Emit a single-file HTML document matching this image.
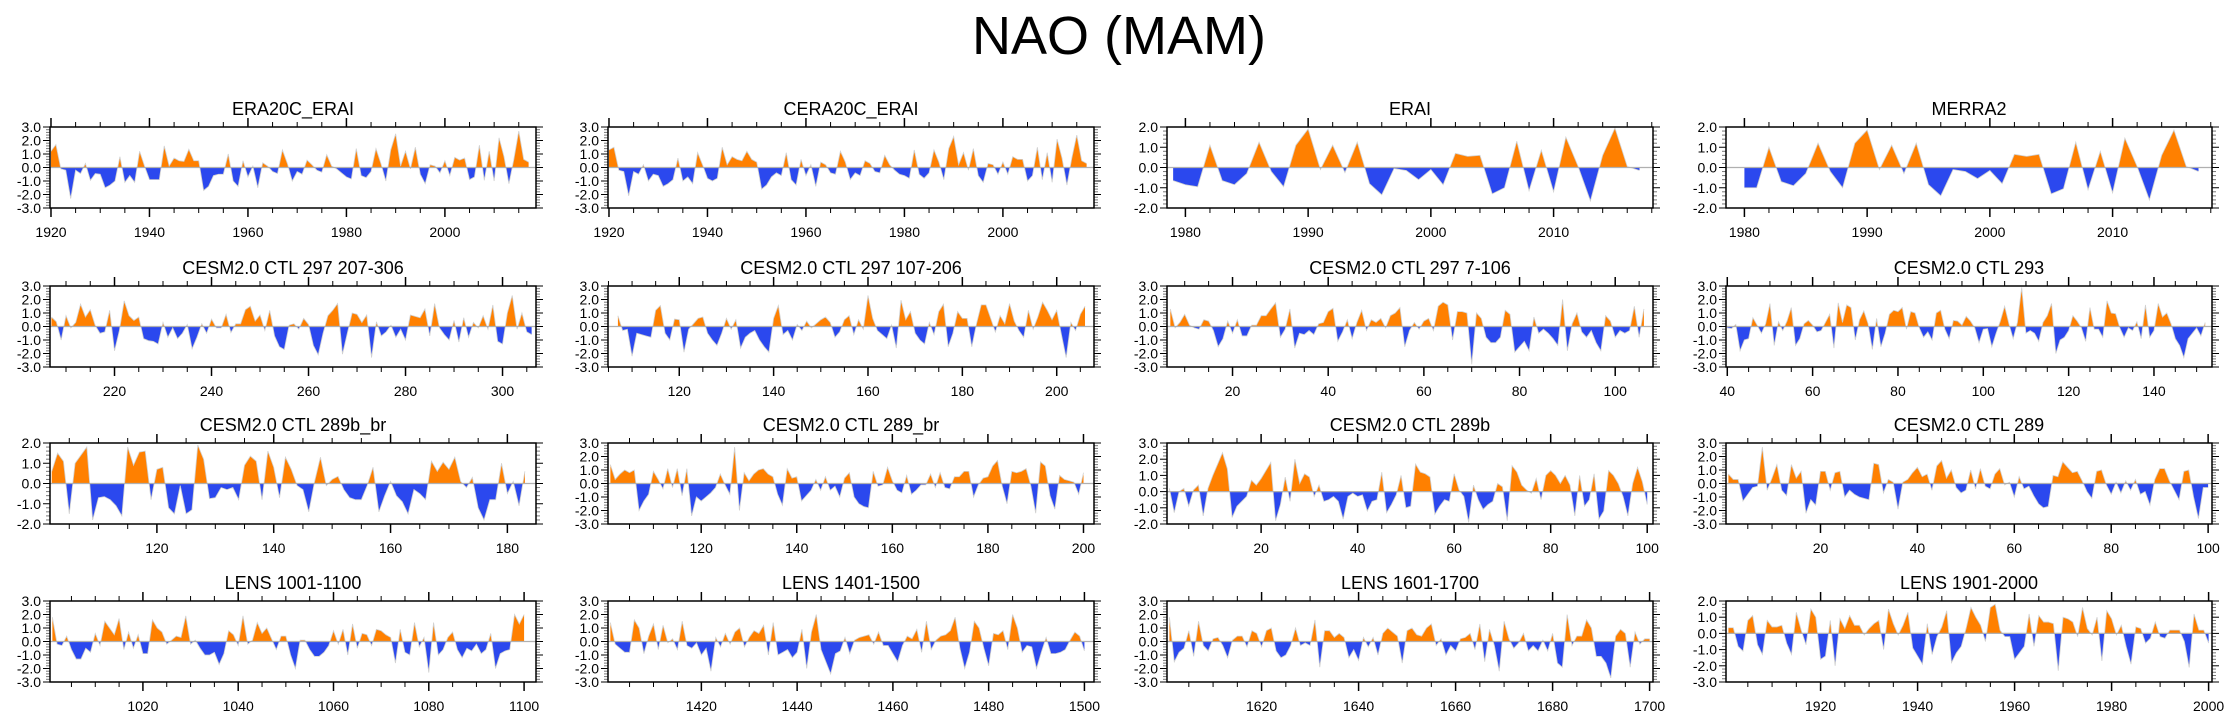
<!DOCTYPE html>
<html><head><meta charset="utf-8"><title>NAO (MAM)</title>
<style>
html,body{margin:0;padding:0;background:#fff;}
svg{display:block;font-family:"Liberation Sans",Arial,sans-serif;}
</style></head>
<body>
<svg id="chart" width="2238" height="719" viewBox="0 0 2238 719" xmlns="http://www.w3.org/2000/svg">
<rect x="0" y="0" width="2238" height="719" fill="#fff"/>
<text x="1119" y="54" font-size="54" text-anchor="middle" fill="#000">NAO (MAM)</text>
</svg>
<script>
const era20cVals=[1.2,1.7,-0.1,-0.2,-2.3,-0.2,-0.45,0.3,-0.95,-0.45,-0.5,-1.5,-1.3,-1.0,0.8,-1.1,-0.6,-1.1,1.2,0.1,-0.9,-0.9,-0.9,1.6,0.1,0.7,0.5,0.45,1.35,0.5,0.5,-1.7,-1.4,-0.6,-0.5,-0.5,1.0,-1.0,-1.4,0.5,-0.7,0.1,-1.5,0.35,0.1,-0.3,-0.45,1.3,0.3,-1.0,-0.3,-0.5,0.55,0.2,-0.2,-0.35,0.95,0.1,-0.1,-0.4,-0.7,-0.85,1.4,-0.6,-0.75,-0.3,1.4,0.3,-1.0,1.3,2.5,0.1,1.2,-0.1,1.5,-0.5,-1.2,0.2,0.1,-0.4,0.5,-0.6,0.75,0.55,0.7,-0.9,-0.7,1.65,-0.95,1.2,-1.0,2.2,0.8,-1.2,0.6,2.7,0.6,0.4];
const cera20cVals=[1.3,1.5,-0.2,-0.3,-2.1,-0.3,-0.5,0.2,-1.0,-0.5,-0.6,-1.4,-1.2,-0.9,0.7,-1.0,-0.7,-1.2,1.1,0.2,-0.8,-1.0,-0.8,1.5,0.2,0.8,0.6,0.5,1.2,0.6,0.4,-1.6,-1.3,-0.7,-0.4,-0.6,1.1,-0.9,-1.3,0.6,-0.6,0.2,-1.4,0.4,0.2,-0.4,-0.5,1.2,0.4,-0.9,-0.4,-0.6,0.5,0.3,-0.3,-0.4,0.9,0.2,-0.2,-0.5,-0.6,-0.8,1.3,-0.5,-0.8,-0.4,1.3,0.4,-0.9,1.4,2.3,0.2,1.1,-0.2,1.4,-0.6,-1.1,0.3,0.2,-0.5,0.4,-0.5,0.8,0.6,0.6,-1.0,-0.6,1.5,-0.9,1.1,-1.1,2.1,0.7,-1.3,0.7,2.4,0.5,0.3];
const eraiVals=[-0.65,-0.85,-0.95,1.1,-0.65,-0.85,-0.3,1.25,-0.2,-0.95,1.1,1.9,-0.1,1.1,-0.25,1.25,-0.8,-1.35,-0.05,-0.15,-0.6,-0.1,-0.85,0.7,0.55,0.6,-1.3,-1.0,1.3,-1.15,0.85,-1.2,1.5,0.05,-1.65,0.6,1.95,0.05,-0.15];
const merra2Vals=[-1.0,-1.0,1.0,-0.7,-0.9,-0.3,1.2,-0.2,-1.0,1.2,1.85,-0.1,1.1,-0.3,1.2,-0.85,-1.4,-0.1,-0.2,-0.55,-0.15,-0.8,0.65,0.55,0.65,-1.3,-1.05,1.25,-1.1,0.8,-1.25,1.45,0.05,-1.6,0.6,1.85,0.05,-0.2];
const ctl297aVals=[0.7,0.35,-1.0,0.8,-0.1,0.3,1.65,0.7,1.25,0.1,-0.5,-0.4,1.2,-1.8,-0.3,1.9,0.8,0.45,0.7,-0.9,-1.05,-1.1,-1.3,0.3,-0.8,-0.1,-0.9,-0.5,0.15,-1.65,-0.8,0.2,-0.5,0.55,-0.1,-0.1,0.9,-0.45,0.2,0.2,1.25,1.5,0.4,0.85,-0.3,1.2,-0.7,-1.5,-1.7,0.1,0.2,-0.2,0.6,0.15,-1.4,-2.1,-0.5,0.8,1.2,1.7,-2.05,-0.5,1.0,0.9,0.3,0.85,-2.3,0.35,-0.7,-0.4,0.1,-0.8,-0.2,-1.0,0.85,0.75,0.65,1.3,-0.7,1.7,-0.1,-0.6,-1.0,0.45,-1.15,0.65,-0.8,0.3,-0.1,0.8,-0.2,1.6,-1.1,-1.3,1.0,2.3,-0.2,1.0,-0.4,-0.6];
const ctl297bVals=[0.8,-0.3,-0.2,-2.2,-0.5,-0.6,-0.7,-0.8,1.2,1.55,-0.5,-1.0,0.55,0.5,-1.9,-0.2,0.2,0.6,0.7,-0.5,-1.0,-1.4,-0.5,0.6,-0.2,0.5,-1.6,-0.8,-0.5,-0.3,-1.0,-1.5,-1.9,0.6,1.55,-0.6,-0.3,-1.0,0.15,-0.3,0.4,-0.1,0.2,0.5,0.7,0.3,-0.8,-0.4,0.5,0.8,-0.6,0.5,-0.2,2.3,0.6,-0.3,-0.6,-0.9,0.1,-1.6,1.95,0.5,1.1,-0.5,-1.0,-1.3,0.3,-0.6,1.1,1.65,-1.5,-0.5,1.1,0.6,0.6,-1.5,0.2,1.6,1.6,0.6,-0.4,0.8,0.2,1.7,0.4,-0.3,-0.8,1.2,-0.2,0.7,1.8,1.2,0.5,1.2,-0.6,-2.3,0.3,-0.3,0.9,1.5];
const ctl297cVals=[1.3,-0.1,0.3,0.9,0.1,-0.1,-0.2,0.5,0.4,-0.3,-1.5,-0.9,0.4,-0.5,0.5,-0.7,-0.7,0.1,0.1,0.8,0.8,1.3,1.75,-0.8,-0.2,1.3,-1.6,-0.5,-0.6,-0.3,-0.6,0.2,0.3,1.1,1.35,-1.1,-0.4,0.5,-0.9,0.3,1.2,-0.3,0.5,0.3,0.6,-0.1,0.8,1.0,1.4,-1.5,-0.3,0.3,-0.2,0.4,0.6,-0.3,1.5,1.8,1.6,-1.0,1.1,1.1,1.0,-2.8,1.0,0.6,-0.8,-1.2,-1.2,-0.8,1.2,0.9,-1.9,-1.5,-1.1,-1.8,0.7,-0.5,-0.2,-0.5,-0.9,-1.4,2.0,-1.8,0.2,1.0,-0.4,-0.8,-0.3,-1.2,-1.8,0.8,0.4,-0.8,-0.3,-0.5,-0.3,1.5,-0.8,1.3];
const ctl293Vals=[-0.1,-0.15,0.15,-1.8,-1.0,-0.9,0.65,0.1,-0.5,0.2,1.7,-1.4,0.35,-0.3,0.4,1.4,-1.4,-0.9,0.2,0.45,0.1,-0.4,-0.3,0.3,0.9,-1.6,1.75,0.3,1.6,1.4,-1.0,0.5,1.15,0.2,-1.7,0.6,-1.5,-0.5,0.9,1.2,1.1,1.4,-0.2,1.1,1.0,-0.1,-0.8,-0.4,-1.0,1.0,1.2,-0.2,-0.9,0.45,0.4,0.1,0.75,0.4,-0.1,-1.2,-0.2,-0.15,-1.5,-0.5,0.4,1.5,0.2,-0.9,0.3,2.9,-0.5,-0.3,-0.5,-1.1,0.3,0.8,1.7,-2.0,-1.0,-0.8,-0.3,0.8,0.4,-0.1,-1.1,1.4,-0.2,-0.2,-0.8,1.9,1.0,0.95,-0.1,-0.8,-0.1,-0.3,0.35,-0.9,1.6,-0.8,-0.3,1.7,0.7,1.0,0.2,-0.9,-1.4,-2.3,-0.9,-0.5,-0.1,-0.7,0.3];
const ctl289bbrVals=[0.6,1.5,1.1,-1.5,1.0,1.4,1.8,-1.8,-0.7,-0.65,-0.8,-1.1,-1.6,1.8,0.9,1.55,1.6,-0.8,0.7,0.8,-1.2,-1.5,-0.1,-1.5,-1.3,1.9,1.2,-0.75,-0.7,-0.2,-0.3,-0.2,-0.8,0.9,1.35,1.1,-0.8,1.6,0.8,-0.7,1.3,0.7,-0.1,-0.3,-1.4,0.1,1.3,-0.1,0.2,0.35,-0.3,-0.7,-0.8,-0.8,-0.1,0.8,-1.4,-0.6,0.1,-0.6,-0.9,-1.5,-0.3,-0.5,-0.8,1.1,0.6,1.05,0.7,1.3,0.1,-0.2,0.3,-1.2,-1.8,-0.8,-0.8,1.0,-0.5,0.1,-1.1,0.6];
const ctl289brVals=[1.4,0.3,0.7,1.0,0.8,1.0,-2.0,-1.3,-0.8,0.9,0.3,-0.4,1.1,-0.3,1.1,-0.9,1.1,-2.4,-1.0,-1.3,-1.0,-0.7,-0.3,0.7,-0.1,-0.8,2.7,-2.0,0.8,0.2,0.7,1.0,1.1,0.7,0.5,-0.8,-1.6,1.1,0.4,0.5,-1.3,-0.9,-0.5,0.3,-0.5,0.5,-0.5,-0.2,-1.0,0.4,0.8,-1.0,-1.5,-1.7,-1.8,0.9,-0.2,-0.1,1.2,0.2,-0.5,-0.7,0.6,-0.8,-0.5,-0.1,-0.1,0.7,-0.3,0.8,-0.3,-0.4,0.5,0.5,0.9,0.9,-1.0,-0.1,0.4,0.5,1.3,1.7,-0.2,-1.5,0.9,0.8,0.9,1.1,-0.2,-2.2,1.6,1.3,-0.9,-1.9,0.6,0.3,0.2,0.1,-0.8,0.8];
const ctl289bVals=[0.2,-1.3,0.0,0.2,-0.9,0.1,0.4,-1.5,0.2,1.0,1.7,2.4,1.4,-1.6,-0.9,-0.6,-0.3,0.7,0.4,0.8,1.3,1.8,-1.8,-0.8,0.9,-0.6,2.0,0.5,1.1,0.9,-0.3,0.4,-0.6,-0.5,-0.3,-0.6,-1.7,-0.3,-0.1,-0.3,-0.2,-1.2,-0.6,-0.5,1.2,-1.3,-0.8,-0.2,1.0,-1.0,-0.9,1.7,1.2,1.1,0.9,-1.4,-0.9,-0.5,-0.6,1.1,0.1,-0.3,-1.9,0.4,-0.5,-1.1,-0.8,-0.6,0.5,0.3,-1.8,1.6,1.2,0.4,0.1,-0.1,0.8,-0.5,1.0,1.3,1.0,0.5,1.0,0.4,-1.5,1.0,-0.9,-0.5,1.1,-1.7,-1.2,1.3,1.0,0.5,-0.3,-1.5,0.5,1.5,0.6,-0.8];
const ctl289Vals=[0.7,0.3,0.3,-1.3,-0.8,-0.3,-0.2,2.7,-0.5,0.4,1.4,-0.5,-0.9,1.4,0.4,0.9,-2.2,-1.2,-1.6,0.9,0.9,-0.5,0.8,0.9,-1.0,-0.5,-0.8,-1.0,-1.1,-1.2,1.5,1.4,-0.7,0.3,0.1,-1.9,0.1,0.3,0.8,1.2,0.5,0.7,-0.5,1.3,1.7,0.4,1.0,-0.3,-0.7,-0.5,1.0,-0.4,1.1,-0.2,-0.4,0.7,1.1,-0.1,0.1,-1.0,0.5,-0.4,-0.2,-0.9,-1.5,-1.8,-1.7,0.6,0.5,1.6,1.2,0.8,0.9,0.2,-0.6,-1.1,0.9,1.0,-0.1,-0.8,0.1,-0.7,0.2,-0.5,0.3,-0.8,-0.6,-1.6,0.3,1.1,1.1,0.2,-0.5,-1.2,0.9,1.0,-1.0,-2.6,-0.3,-0.3];
const lens1001Vals=[1.8,-0.2,-0.3,0.4,-0.6,-1.3,-1.3,-0.5,-0.8,0.6,-0.3,1.5,1.0,0.5,1.7,-0.6,0.7,-0.5,0.5,-0.9,-0.9,1.6,1.0,0.7,-0.2,0.1,0.4,0.3,1.9,-0.2,0.1,-0.5,-1.0,-1.0,-0.8,-1.7,-0.9,0.8,0.5,-0.3,1.9,-0.2,0.1,1.4,0.6,1.0,0.2,-0.6,0.4,0.4,-1.0,-2.0,0.1,0.1,-0.6,-1.1,-1.1,-0.8,-0.3,0.8,-0.2,0.9,-1.0,1.3,-0.5,0.6,0.5,-0.3,0.9,0.8,0.5,0.3,-1.6,0.9,-0.8,-1.0,1.4,-0.4,0.3,-2.3,1.4,-1.0,-0.6,0.3,0.7,-0.6,-1.2,-0.5,-0.7,-0.2,-0.9,-0.6,0.6,-2.0,-0.9,-0.7,-0.6,2.0,1.3,2.0];
const lens1401Vals=[1.4,-0.2,-0.5,-0.8,-0.8,1.6,1.0,-0.9,0.4,1.3,-0.6,1.2,-0.1,0.2,-0.6,1.5,-0.3,-0.5,-0.1,-1.0,-0.5,-2.2,0.3,-0.4,0.6,-0.2,0.7,1.0,-0.4,0.3,0.8,0.6,1.2,-1.0,1.4,-1.0,-0.8,-0.6,-1.2,-0.8,0.9,-2.0,0.7,2.0,-0.6,-1.5,-2.4,-0.9,-0.7,0.3,-0.9,0.1,0.3,0.4,0.5,-0.2,0.7,-0.3,-0.3,-0.9,-1.5,-0.3,0.4,0.2,0.9,-0.8,1.5,-0.6,0.1,0.4,0.5,0.8,1.8,-0.5,-2.0,-0.8,1.5,1.0,-0.5,-1.8,0.6,0.5,0.8,-0.6,2.0,1.0,-0.8,-0.3,-0.4,-2.0,-0.8,0.3,-0.9,-0.9,-0.8,-0.6,0.1,0.7,0.4,-0.7];
const lens1601Vals=[1.8,-1.5,-0.8,-0.5,0.8,-1.1,1.5,-0.3,-0.7,0.2,0.3,-0.3,-1.2,0.1,0.4,0.4,-0.4,0.8,0.6,-0.4,0.8,1.0,-0.7,-1.2,-1.0,-0.3,1.0,-0.3,-0.1,-0.3,1.6,-1.9,0.8,0.8,0.3,0.6,0.3,-1.2,-0.6,-1.4,0.3,-0.4,0.3,-1.0,0.6,1.0,0.7,0.4,-1.6,0.8,1.0,0.5,0.4,1.0,1.3,-0.3,0.2,-1.0,-0.3,-0.7,0.2,0.3,0.6,-0.6,1.3,-1.5,0.9,-0.3,-2.2,1.5,0.2,-0.5,-0.1,0.6,-0.7,-0.3,-0.7,0.1,-0.7,0.6,-1.6,-1.9,2.0,-0.3,0.4,0.4,1.6,1.0,-1.1,-1.1,-1.6,-2.7,0.4,0.9,0.6,-1.9,0.7,-0.2,0.2,0.2];
const lens1901Vals=[0.35,0.35,-0.8,-1.1,0.8,1.1,-0.7,-1.3,0.8,0.4,0.4,0.5,-0.6,-1.3,1.3,0.2,-0.7,1.5,1.0,-1.6,-1.4,0.8,-2.0,0.9,0.3,1.1,0.5,0.5,-0.1,0.3,0.6,0.8,-1.0,1.5,0.6,-0.1,0.5,1.3,-0.9,-1.4,-1.9,0.6,-1.3,-0.2,0.4,1.4,-1.8,-1.2,-0.8,0.3,1.6,1.0,0.5,-0.5,1.6,1.8,0.2,-0.2,-0.2,-1.6,-1.2,-0.8,1.2,-0.8,1.1,0.7,0.7,0.6,-2.3,1.0,0.9,0.7,-0.2,1.6,0.3,-0.1,1.0,-1.7,1.4,0.9,-0.1,0.5,-0.8,-1.9,0.4,0.3,-0.6,-0.3,0.7,-0.2,-0.3,0.2,0.2,0.2,-0.5,-2.1,1.2,0.2,0.2,-0.6];

const panelTitles=["ERA20C_ERAI","CERA20C_ERAI","ERAI","MERRA2","CESM2.0 CTL 297 207-306","CESM2.0 CTL 297 107-206","CESM2.0 CTL 297 7-106","CESM2.0 CTL 293","CESM2.0 CTL 289b_br","CESM2.0 CTL 289_br","CESM2.0 CTL 289b","CESM2.0 CTL 289","LENS 1001-1100","LENS 1401-1500","LENS 1601-1700","LENS 1901-2000"];
const panelSeries=[era20cVals,cera20cVals,eraiVals,merra2Vals,ctl297aVals,ctl297bVals,ctl297cVals,ctl293Vals,ctl289bbrVals,ctl289brVals,ctl289bVals,ctl289Vals,lens1001Vals,lens1401Vals,lens1601Vals,lens1901Vals];
const panelStart=[1920,1920,1979,1980,207,107,7,40,102,101,1,1,1001,1401,1601,1901];
const panelXMin=[1919.8,1919.8,1978.5,1978.5,206.7,104.9,6.3,39.7,101.7,100.5,0.5,0.5,1000.5,1400.5,1600.5,1900.5];
const panelXMax=[2018.5,2018.5,2018.1,2018.1,306.9,207.9,107.9,153.6,184.9,202.2,101.2,100.8,1102.5,1502,1700.7,2000.7];
const panelYMin=[-3,-3,-2,-2,-3,-3,-3,-3,-2,-3,-2,-3,-3,-3,-3,-3];
const panelYMax=[3,3,2,2,3,3,3,3,2,3,3,3,3,3,3,2];
const panelMajor=[20,20,10,10,20,20,20,20,20,20,20,20,20,20,20,20];
const panelMinor=[5,5,2,2,5,5,5,5,5,5,5,5,5,5,5,5];

const NS="http://www.w3.org/2000/svg";
const svg=document.getElementById('chart');
const PW=486,PH=81;
const colLeft=[50,608,1167,1726];
const rowTop=[127,286,443,601];
const ORANGE="#FF8000",BLUE="#2B48EE";
function mk(tag,attrs,parent){const e=document.createElementNS(NS,tag);for(const k in attrs)e.setAttribute(k,attrs[k]);(parent||svg).appendChild(e);return e;}
const defs=mk('defs',{});
function fmt(v){return (Math.abs(v)<1e-9?0:v).toFixed(1);}

for(let p=0;p<16;p++){
  const left=colLeft[p%4],top=rowTop[Math.floor(p/4)];
  const xmin=panelXMin[p],xmax=panelXMax[p],ymin=panelYMin[p],ymax=panelYMax[p];
  const sx=v=>left+(v-xmin)/(xmax-xmin)*PW;
  const sy=v=>top+(ymax-v)/(ymax-ymin)*PH;
  const g=mk('g',{});
  
  
  const t=mk('text',{x:left+PW/2,y:top-12,'font-size':18,'text-anchor':'middle',fill:'#000'},g);
  t.textContent=panelTitles[p];
  
  
  const vals=panelSeries[p],st=panelStart[p];
  const y0=sy(0);
  let d='M'+sx(st).toFixed(2)+','+y0.toFixed(2);
  let line='';
  vals.forEach((v,i)=>{const X=sx(st+i).toFixed(2),Y=sy(v).toFixed(2);d+=' L'+X+','+Y;line+=X+','+Y+' ';});
  d+=' L'+sx(st+vals.length-1).toFixed(2)+','+y0.toFixed(2)+' Z';
  const cp=mk('clipPath',{id:'cp'+p},defs);mk('rect',{x:left,y:top,width:PW,height:y0-top},cp);
  const cn=mk('clipPath',{id:'cn'+p},defs);mk('rect',{x:left,y:y0,width:PW,height:top+PH-y0},cn);
  const pa=mk('path',{d:d,fill:ORANGE,'clip-path':'url(#cp'+p+')'},g);
  
  
  const na=mk('path',{d:d,fill:BLUE,'clip-path':'url(#cn'+p+')'},g);
  
  
  const pl=mk('polyline',{points:line,fill:'none',stroke:'#d0d0d0','stroke-width':0.8},g);
  
  
  const zl=mk('line',{x1:left,x2:left+PW,y1:y0,y2:y0,stroke:'#b0b0b0','stroke-width':1.2},g);
  
  
  const maj=panelMajor[p],mn=panelMinor[p];
  for(let v=Math.ceil(xmin/mn)*mn;v<=xmax+1e-9;v+=mn){
    const X=sx(v);const isMaj=Math.abs(v/maj-Math.round(v/maj))<1e-9;const L=isMaj?9:5;
    mk('line',{x1:X,x2:X,y1:top,y2:top-L,stroke:'#000','stroke-width':isMaj?1.5:1},g);
    mk('line',{x1:X,x2:X,y1:top+PH,y2:top+PH+L,stroke:'#000','stroke-width':isMaj?1.5:1},g);
    if(isMaj){const tl=mk('text',{x:X,y:top+PH+29,'font-size':14,'text-anchor':'middle',fill:'#000'},g);tl.textContent=String(Math.round(v));
      
      }
  }
  for(let k=Math.round(ymin*5);k<=Math.round(ymax*5);k++){
    const v=k/5,Y=sy(v),isMaj=k%5===0,L=isMaj?7:4;
    mk('line',{x1:left,x2:left-L,y1:Y,y2:Y,stroke:isMaj?'#000':'#777','stroke-width':1},g);
    mk('line',{x1:left+PW,x2:left+PW+L,y1:Y,y2:Y,stroke:isMaj?'#000':'#777','stroke-width':1},g);
    if(isMaj){const yl=mk('text',{x:left-9,y:Y+5,'font-size':14,'text-anchor':'end',fill:'#000'},g);yl.textContent=fmt(v);
      
      }
  }
  const fr=mk('rect',{x:left,y:top,width:PW,height:PH,fill:'none',stroke:'#000','stroke-width':1.5},g);
  
  
}
</script>
</body></html>
